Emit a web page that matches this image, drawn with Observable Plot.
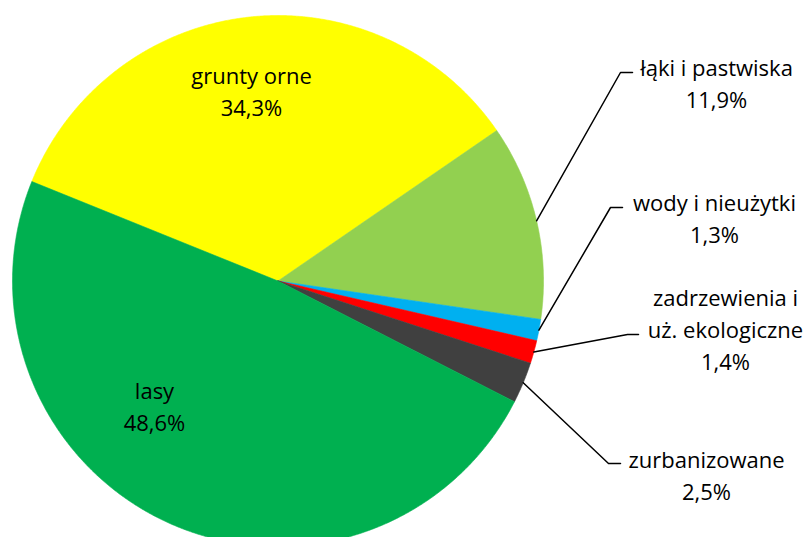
<!DOCTYPE html>
<html>
<head>
<meta charset="utf-8">
<script src="https://cdn.jsdelivr.net/npm/d3@7"></script>
<script src="https://cdn.jsdelivr.net/npm/@observablehq/plot@0.6"></script>
<style>
  html, body { margin: 0; padding: 0; background: #fff; }
</style>
</head>
<body>
<div id="chart"></div>
<script>
// ---- data ----
const categories = ["grunty orne", "łąki i pastwiska", "wody i nieużytki", "zadrzewienia i\nuż. ekologiczne", "zurbanizowane", "lasy"];
const shares = [34.3, 11.9, 1.3, 1.4, 2.5, 48.6];
const colors = ["#FFFF00", "#92D050", "#00B0F0", "#FF0000", "#404040", "#00B050"];

// ---- layout (label placement) ----
const labelPos = [
  {x: 251, y: 89, inside: true},
  {x: 716, y: 81.5, ex: 620, ey: 72, hx: 632},
  {x: 714, y: 216.5, ex: 610, ey: 207, hx: 622},
  {x: 725, y: 327.5, ex: 627, ey: 334, hx: 638},
  {x: 706, y: 473.5, ex: 608, ey: 463, hx: 620},
  {x: 154, y: 404, inside: true}
];

const W = 809, H = 537;
const cx = 277.5, cy = 280.5, R = 265.5;
const start = -68 * Math.PI / 180;

const rows = categories.map((c, i) => ({category: c, share: shares[i], color: colors[i], i}));
const arcs = d3.pie().value(d => d.share).sort(null)
  .startAngle(start).endAngle(start + 2 * Math.PI)(rows);

const pt = (a, r) => [cx + r * Math.sin(a), cy - r * Math.cos(a)];

const fmt = v => d3.format(".1f")(v).replace(".", ",") + "%";

const marks = [];
for (const a of arcs) {
  const pts = [[cx, cy]];
  const n = Math.max(2, Math.ceil((a.endAngle - a.startAngle) / (Math.PI / 720)));
  for (let k = 0; k <= n; k++) {
    pts.push(pt(a.startAngle + (a.endAngle - a.startAngle) * k / n, R));
  }
  pts.push([cx, cy]);
  marks.push(Plot.line(pts, {x: d => d[0], y: d => d[1], fill: a.data.color, stroke: a.data.color, strokeWidth: 0.6, curve: "linear"}));
}

// leader lines
for (const a of arcs) {
  const L = labelPos[a.data.i];
  if (L.inside) continue;
  const mid = (a.startAngle + a.endAngle) / 2;
  const p0 = pt(mid, R);
  const pts = [p0, [L.ex, L.ey], [L.hx, L.ey]];
  marks.push(Plot.line(pts, {x: d => d[0], y: d => d[1], stroke: "#000", strokeWidth: 1.5, curve: "linear"}));
}

const labels = rows.map(r => ({
  x: labelPos[r.i].x,
  y: labelPos[r.i].y,
  text: r.category + "\n" + fmt(r.share)
}));
marks.push(Plot.text(labels, {
  x: "x", y: "y", text: "text",
  fontSize: 22, fontFamily: "Open Sans", lineHeight: 1.45,
  fill: "#000", textAnchor: "middle", lineAnchor: "middle"
}));

const chart = Plot.plot({
  width: W, height: H,
  margin: 0,
  x: {domain: [0, W], range: [0, W], axis: null},
  y: {domain: [0, H], range: [0, H], axis: null},
  style: {background: "#fff"},
  marks
});
document.getElementById("chart").appendChild(chart);
</script>
</body>
</html>
